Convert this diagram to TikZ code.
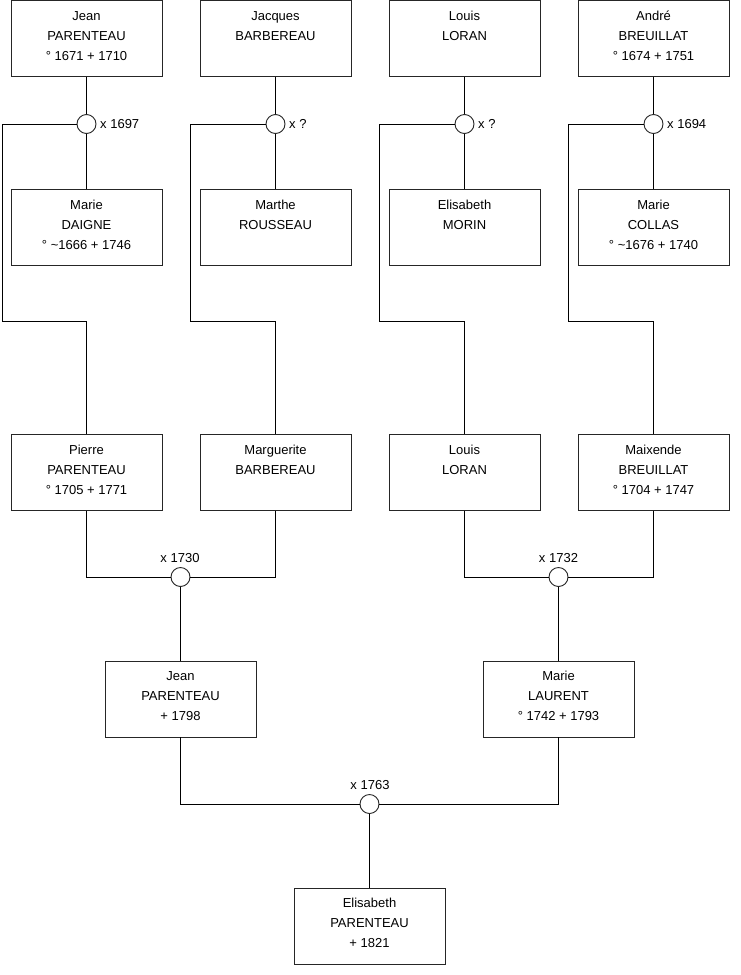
\documentclass[tikz,border=0pt]{standalone}
\usepackage{fontspec}
\setmainfont{Liberation Sans}
\begin{document}
\begin{tikzpicture}[x=1pt,y=-1pt,
  person/.style={draw=black!85,line width=0.9pt,inner sep=0pt,fill=white},
  union/.style={circle,draw=black!85,line width=0.9pt,fill=white,minimum size=19pt,inner sep=0pt},
  link/.style={draw=black,line width=0.9pt},
  ulabel/.style={inner sep=0pt,font=\fontsize{13}{15}\selectfont}]
\newcommand{\ptext}[1]{\parbox[c][76pt][t]{151pt}{\centering\fontsize{13}{20}\selectfont\rule{0pt}{19.8pt}#1}}
\useasboundingbox (0,0) rectangle (740,975);
% row 1
\node[person] (a1) at (86.5,38.5) {\ptext{Jean\\PARENTEAU\\° 1671 + 1710}};
\node[person] (a2) at (275.5,38.5) {\ptext{Jacques\\BARBEREAU}};
\node[person] (a3) at (464.5,38.5) {\ptext{Louis\\LORAN}};
\node[person] (a4) at (653.5,38.5) {\ptext{André\\BREUILLAT\\° 1674 + 1751}};
% row 2
\node[person] (b1) at (86.5,227.5) {\ptext{Marie\\DAIGNE\\° \textasciitilde1666 + 1746}};
\node[person] (b2) at (275.5,227.5) {\ptext{Marthe\\ROUSSEAU}};
\node[person] (b3) at (464.5,227.5) {\ptext{Elisabeth\\MORIN}};
\node[person] (b4) at (653.5,227.5) {\ptext{Marie\\COLLAS\\° \textasciitilde1676 + 1740}};
% row 3
\node[person] (d1) at (86.5,472.5) {\ptext{Pierre\\PARENTEAU\\° 1705 + 1771}};
\node[person] (d2) at (275.5,472.5) {\ptext{Marguerite\\BARBEREAU}};
\node[person] (d3) at (464.5,472.5) {\ptext{Louis\\LORAN}};
\node[person] (d4) at (653.5,472.5) {\ptext{Maixende\\BREUILLAT\\° 1704 + 1747}};
% row 4
\node[person] (e1) at (180.5,699) {\ptext{Jean\\PARENTEAU\\+ 1798}};
\node[person] (e2) at (558.5,699) {\ptext{Marie\\LAURENT\\° 1742 + 1793}};
% row 5
\node[person] (f1) at (369.5,926) {\ptext{Elisabeth\\PARENTEAU\\+ 1821}};
% unions
\node[union] (u1) at (86.5,124) {};
\node[union] (u2) at (275.5,124) {};
\node[union] (u3) at (464.5,124) {};
\node[union] (u4) at (653.5,124) {};
\node[union] (u5) at (180.5,577) {};
\node[union] (u6) at (558.5,577) {};
\node[union] (u7) at (369.5,804) {};
% union labels
\node[ulabel,anchor=west] (l1) at (100,124) {x 1697};
\node[ulabel,anchor=west] (l2) at (289,124) {x ?};
\node[ulabel,anchor=west] (l3) at (478,124) {x ?};
\node[ulabel,anchor=west] (l4) at (667,124) {x 1694};
\node[ulabel] (l5) at (180,558) {x 1730};
\node[ulabel] (l6) at (558.5,558) {x 1732};
\node[ulabel] (l7) at (370,785) {x 1763};
% bends
\coordinate (k1) at (2,321);
\coordinate (k2) at (190.5,321);
\coordinate (k3) at (379.5,321);
\coordinate (k4) at (568.5,321);
% connectors top
\foreach \i in {1,2,3,4}{
  \draw[link] (a\i.south) -- (u\i.north);
  \draw[link] (u\i.south) -- (b\i.north);
  \draw[link] (u\i.west) -| (k\i) -| (d\i.north);
}
% connectors lower
\draw[link] (d1.south) |- (u5.west);
\draw[link] (d2.south) |- (u5.east);
\draw[link] (u5.south) -- (e1.north);
\draw[link] (d3.south) |- (u6.west);
\draw[link] (d4.south) |- (u6.east);
\draw[link] (u6.south) -- (e2.north);
\draw[link] (e1.south) |- (u7.west);
\draw[link] (e2.south) |- (u7.east);
\draw[link] (u7.south) -- (f1.north);
\end{tikzpicture}
\end{document}
